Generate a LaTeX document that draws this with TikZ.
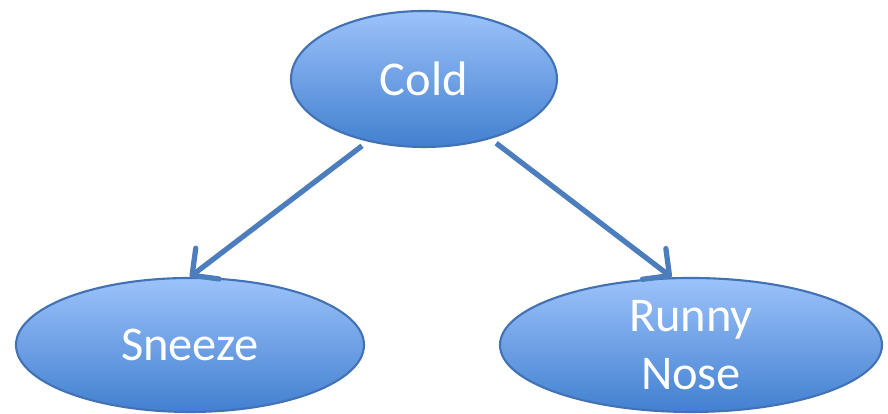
\documentclass[tikz,border=0pt]{standalone}
\usepackage{fontspec}
\setmainfont{Carlito}
\usetikzlibrary{shapes.geometric,arrows.meta}
\definecolor{ovalTop}{RGB}{156,194,250}
\definecolor{ovalBot}{RGB}{66,128,208}
\definecolor{ovalLine}{RGB}{66,114,180}
\definecolor{arrowBlue}{RGB}{76,126,190}
\tikzset{
  oval/.style={ellipse, draw=ovalLine, line width=0.6pt, top color=ovalTop,
    bottom color=ovalBot, inner sep=0pt, text=white, align=center,
    font=\fontsize{13.8}{16.4}\selectfont},
  link/.style={draw=arrowBlue, line width=1.5pt,
    -{Straight Barb[length=5.5pt,width=11pt,round]}, shorten <=2pt}
}
\begin{document}
\begin{tikzpicture}
\useasboundingbox (0,0) rectangle (8.88,4.14);
% Cause
\node[oval, minimum width=2.66cm, minimum height=1.36cm] (cold) at (4.24,3.35) {Cold};

% Symptoms
\node[oval, minimum width=3.48cm, minimum height=1.34cm] (sneeze) at (1.90,0.69) {Sneeze};
\node[oval, minimum width=3.82cm, minimum height=1.34cm] (runny) at (6.91,0.69) {Runny\\Nose};

% Dependencies
\draw[link] (cold.228) -- (sneeze.north);
\draw[link] (cold.318) -- (runny.106);
\end{tikzpicture}
\end{document}
